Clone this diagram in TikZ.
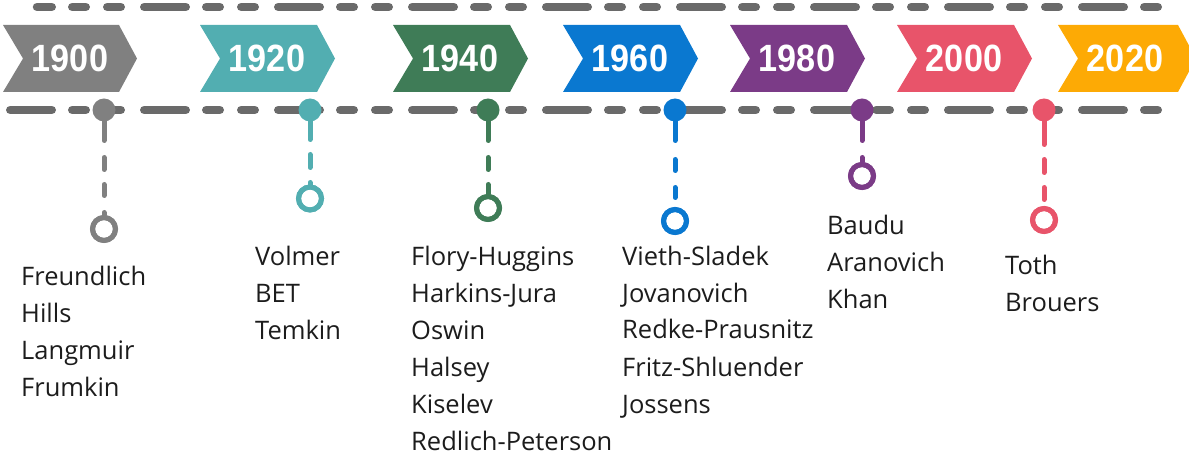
\documentclass[tikz,border=0pt]{standalone}
\usepackage{fontspec}
\usepackage{graphicx}
\setmainfont{Open Sans}
\newfontfamily\yearfont{Liberation Sans}
\definecolor{cGray}{HTML}{808080}
\definecolor{cTeal}{HTML}{52AEB1}
\definecolor{cGreen}{HTML}{3F7C57}
\definecolor{cBlue}{HTML}{0A78D0}
\definecolor{cPurple}{HTML}{7B3B87}
\definecolor{cRed}{HTML}{E8546A}
\definecolor{cOrange}{HTML}{FDAA05}
\definecolor{cLine}{HTML}{6A6A6A}
\definecolor{cText}{HTML}{1C1C1C}
\begin{document}
\begin{tikzpicture}[x=1pt,y=-1pt,
  timeline/.style={draw=cLine, line width=8.5pt, line cap=round,
    dash pattern=on 41.5pt off 20.5pt on 13.5pt off 21.5pt on 13.5pt off 23.5pt},
  year/.style={text=white, font=\yearfont\bfseries\fontsize{38}{38}\selectfont, inner sep=0pt},
  dot/.style={circle, fill=#1, minimum size=23pt, inner sep=0pt},
  ring/.style={circle, draw=#1, fill=white, line width=5pt, minimum size=23pt, inner sep=0pt},
  stem/.style={draw=#1, line width=5pt, line cap=round},
  names/.style={anchor=base west, align=left, inner sep=0pt, text=cText,
    font=\fontsize{25.5}{37}\selectfont},
]
\path[use as bounding box] (0,0) rectangle (1189,462);
\clip (0,0) rectangle (1189,462);

% timelines
\coordinate (topA) at (37,7);
\coordinate (topB) at (1160,7);
\coordinate (botA) at (10.25,110);
\coordinate (botB) at (1160,110);
\draw[timeline, dash phase=26.75pt] (topA) -- (topB);
\draw[timeline] (botA) -- (botB);

% chevrons
\foreach \L/\T/\c/\y in {3/137/cGray/1900, 200/335/cTeal/1920, 393/528/cGreen/1940,
  563/698/cBlue/1960, 730/865/cPurple/1980, 897/1032/cRed/2000, 1058/1196/cOrange/2020}{
  \fill[\c] (\L,25) -- (\T-18,25) -- (\T,58.5) -- (\T-18,92) -- (\L,92) -- (\L+20,58.5) -- cycle;
  \node[year] (y\y) at (\L+67,58.5) {\scalebox{0.9}[1]{\y}};
}

% dots and rings
\node[dot=cGray]   (d1900) at (104,110) {};
\node[dot=cTeal]   (d1920) at (310,110) {};
\node[dot=cGreen]  (d1940) at (488,110) {};
\node[dot=cBlue]   (d1960) at (675,110) {};
\node[dot=cPurple] (d1980) at (862,110) {};
\node[dot=cRed]    (d2000) at (1044,110) {};

\node[ring=cGray]   (r1900) at (104,229) {};
\node[ring=cTeal]   (r1920) at (310,198.5) {};
\node[ring=cGreen]  (r1940) at (488,208) {};
\node[ring=cBlue]   (r1960) at (675,221) {};
\node[ring=cPurple] (r1980) at (862,176) {};
\node[ring=cRed]    (r2000) at (1044,220) {};

% stems
\draw[stem=cGray, dash pattern=on 30.5pt off 17pt on 12pt off 15pt on 11pt off 17pt on 20pt] (d1900.center) -- (r1900.north);
\draw[stem=cTeal, dash pattern=on 29.5pt off 15pt on 13pt off 15pt on 10pt] (d1920.center) -- (r1920.north);
\draw[stem=cGreen, dash pattern=on 30.5pt off 17pt on 12pt off 15pt on 20pt] (d1940.center) -- (r1940.north);
\draw[stem=cBlue, dash pattern=on 30.5pt off 19pt on 11pt off 17pt on 10pt off 30pt] (d1960.center) -- (r1960.north);
\draw[stem=cPurple, dash pattern=on 30.5pt off 17pt on 20pt] (d1980.center) -- (r1980.north);
\draw[stem=cRed, dash pattern=on 34.5pt off 15pt on 13pt off 15pt on 12pt off 20pt] (d2000.center) -- (r2000.north);
% redraw rings on top of stem ends
\foreach \n/\c in {1900/cGray,1920/cTeal,1940/cGreen,1960/cBlue,1980/cPurple,2000/cRed}{
  \draw[\c, line width=5pt] (r\n.center) circle (11.5pt);
}

% names (anchor is the baseline of the last line)
\node[names] (n1900) at (21,396) {Freundlich\\Hills\\Langmuir\\Frumkin};
\node[names] (n1920) at (255,340) {Volmer\\BET\\Temkin};
\node[names] (n1940) at (411,450) {Flory-Huggins\\Harkins-Jura\\Oswin\\Halsey\\Kiselev\\Redlich-Peterson};
\node[names] (n1960) at (622,413) {Vieth-Sladek\\Jovanovich\\Redke-Prausnitz\\Fritz-Shluender\\Jossens};
\node[names] (n1980) at (827,309) {Baudu\\Aranovich\\Khan};
\node[names] (n2000) at (1005,312) {Toth\\Brouers};
\end{tikzpicture}
\end{document}
